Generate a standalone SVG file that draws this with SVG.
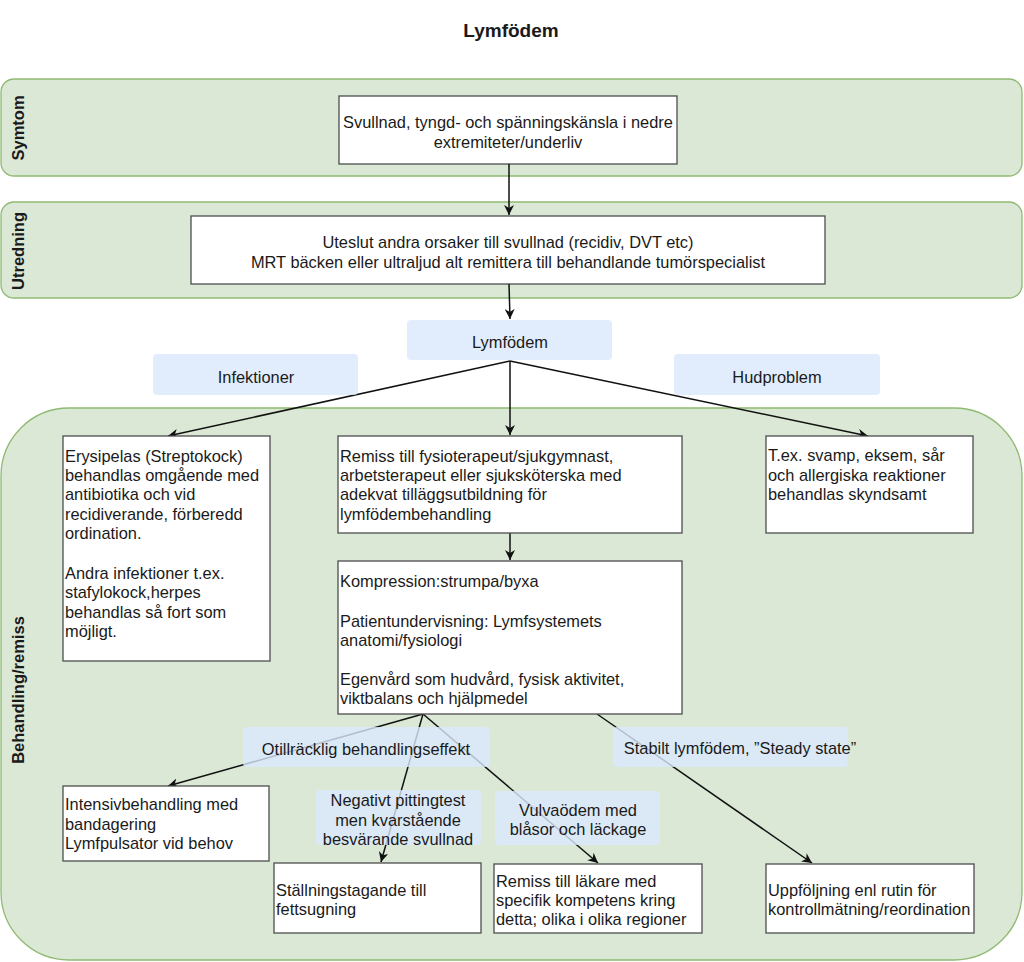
<svg xmlns="http://www.w3.org/2000/svg" width="1024" height="962" viewBox="0 0 1024 962">
<defs>
<style>
.lane{fill:#dbe8d6;stroke:#8fba72;stroke-width:1.3}
.lbl{fill:#dae8fc;fill-opacity:0.8}
.box{fill:#ffffff;stroke:#4d4d4d;stroke-width:1.3}
.t{font-family:"Liberation Sans",Arial,sans-serif;font-size:16.4px;fill:#1a1a1a}
.c{text-anchor:middle}
.lt{font-family:"Liberation Sans",Arial,sans-serif;font-size:16.5px;font-weight:bold;fill:#1a1a1a;text-anchor:middle}
.e{stroke:#111;stroke-width:1.5;fill:none;marker-end:url(#ah)}
</style>
<marker id="ah" viewBox="0 0 10 10" refX="10" refY="5" markerWidth="10" markerHeight="10" markerUnits="userSpaceOnUse" orient="auto">
<path d="M0,0 L10,5 L0,10 L3,5 Z" fill="#111"/>
</marker>
</defs>
<rect width="1024" height="962" fill="#ffffff"/>
<text x="511" y="37" class="lt" style="font-size:19px">Lymfödem</text>

<g id="lane-symtom">
<rect class="lane" x="1" y="79" width="1021" height="97" rx="13"/>
<text class="lt" transform="translate(24,128) rotate(-90)">Symtom</text>
</g>
<g id="lane-utredning">
<rect class="lane" x="1" y="202" width="1021" height="96" rx="13"/>
<text class="lt" transform="translate(24,251) rotate(-90)">Utredning</text>
</g>
<g id="lane-behandling">
<rect class="lane" x="1" y="408" width="1021" height="552" rx="68"/>
<text class="lt" transform="translate(24,690) rotate(-90)">Behandling/remiss</text>
</g>

<g id="n-symtom">
<rect class="box" x="339" y="96" width="338" height="68"/>
<text class="t c" x="508" y="128">Svullnad, tyngd- och spänningskänsla i nedre</text>
<text class="t c" x="508" y="148">extremiteter/underliv</text>
</g>
<g id="n-utredning">
<rect class="box" x="191" y="216" width="634" height="68"/>
<text class="t c" x="508" y="248">Uteslut andra orsaker till svullnad (recidiv, DVT etc)</text>
<text class="t c" x="508" y="268">MRT bäcken eller ultraljud alt remittera till behandlande tumörspecialist</text>
</g>

<g id="connectors">
<line class="e" x1="509" y1="164" x2="509" y2="215"/>
<line class="e" x1="509" y1="284" x2="510" y2="319"/>
<line class="e" x1="510" y1="361" x2="168" y2="436"/>
<line class="e" x1="510" y1="361" x2="510" y2="435"/>
<line class="e" x1="510" y1="361" x2="868" y2="436"/>
<line class="e" x1="510" y1="533" x2="510" y2="560"/>
<line class="e" x1="423" y1="714" x2="168" y2="786"/>
<line class="e" x1="423" y1="714" x2="381" y2="862"/>
<line class="e" x1="423" y1="714" x2="598" y2="863"/>
<line class="e" x1="597" y1="714" x2="812" y2="863"/>
</g>

<g id="n-lymfodem">
<rect class="lbl" x="407" y="320" width="205" height="40" rx="4"/>
<text class="t c" x="510" y="348">Lymfödem</text>
</g>
<g id="n-infektioner">
<rect class="lbl" x="153" y="354" width="205" height="41" rx="4"/>
<text class="t c" x="256" y="383">Infektioner</text>
</g>
<g id="n-hudproblem">
<rect class="lbl" x="674" y="354" width="206" height="41" rx="4"/>
<text class="t c" x="777" y="383">Hudproblem</text>
</g>

<g id="n-erysipelas">
<rect class="box" x="63" y="436" width="207" height="225"/>
<text class="t" x="65" y="462">Erysipelas (Streptokock)</text>
<text class="t" x="65" y="481">behandlas omgående med</text>
<text class="t" x="65" y="500">antibiotika och vid</text>
<text class="t" x="65" y="520">recidiverande, förberedd</text>
<text class="t" x="65" y="539">ordination.</text>
<text class="t" x="65" y="579">Andra infektioner t.ex.</text>
<text class="t" x="65" y="598">stafylokock,herpes</text>
<text class="t" x="65" y="618">behandlas så fort som</text>
<text class="t" x="65" y="637">möjligt.</text>
</g>
<g id="n-remiss-fysio">
<rect class="box" x="338" y="436" width="344" height="97"/>
<text class="t" x="340" y="462">Remiss till fysioterapeut/sjukgymnast,</text>
<text class="t" x="340" y="481">arbetsterapeut eller sjuksköterska med</text>
<text class="t" x="340" y="500">adekvat tilläggsutbildning för</text>
<text class="t" x="340" y="520">lymfödembehandling</text>
</g>
<g id="n-hud">
<rect class="box" x="766" y="436" width="207" height="97"/>
<text class="t" x="768" y="461">T.ex. svamp, eksem, sår</text>
<text class="t" x="768" y="481">och allergiska reaktioner</text>
<text class="t" x="768" y="500">behandlas skyndsamt</text>
</g>
<g id="n-kompression">
<rect class="box" x="338" y="561" width="344" height="153"/>
<text class="t" x="340" y="587">Kompression:strumpa/byxa</text>
<text class="t" x="340" y="627">Patientundervisning: Lymfsystemets</text>
<text class="t" x="340" y="646">anatomi/fysiologi</text>
<text class="t" x="340" y="685">Egenvård som hudvård, fysisk aktivitet,</text>
<text class="t" x="340" y="704">viktbalans och hjälpmedel</text>
</g>

<g id="l-otillracklig">
<rect class="lbl" x="243" y="727" width="247" height="40" rx="4"/>
<text class="t c" x="366" y="755">Otillräcklig behandlingseffekt</text>
</g>
<g id="l-negativt">
<rect class="lbl" x="316" y="790" width="165" height="55" rx="4"/>
<text class="t c" x="398" y="806">Negativt pittingtest</text>
<text class="t c" x="398" y="826">men kvarstående</text>
<text class="t c" x="398" y="845">besvärande svullnad</text>
</g>
<g id="l-vulva">
<rect class="lbl" x="495" y="791" width="165" height="54" rx="4"/>
<text class="t c" x="578" y="816">Vulvaödem med</text>
<text class="t c" x="578" y="835">blåsor och läckage</text>
</g>
<g id="l-stabilt">
<rect class="lbl" x="613" y="727" width="235" height="40" rx="4"/>
<text class="t c" x="740" y="754">Stabilt lymfödem, ”Steady state”</text>
</g>

<g id="n-intensiv">
<rect class="box" x="63" y="786" width="206" height="75"/>
<text class="t" x="65" y="810">Intensivbehandling med</text>
<text class="t" x="65" y="830">bandagering</text>
<text class="t" x="65" y="849">Lymfpulsator vid behov</text>
</g>
<g id="n-fettsugning">
<rect class="box" x="274" y="863" width="207" height="70"/>
<text class="t" x="276" y="896">Ställningstagande till</text>
<text class="t" x="276" y="915">fettsugning</text>
</g>
<g id="n-lakare">
<rect class="box" x="494" y="864" width="208" height="69"/>
<text class="t" x="496" y="887">Remiss till läkare med</text>
<text class="t" x="496" y="906">specifik kompetens kring</text>
<text class="t" x="496" y="925">detta; olika i olika regioner</text>
</g>
<g id="n-uppfoljning">
<rect class="box" x="766" y="864" width="208" height="69"/>
<text class="t" x="768" y="896">Uppföljning enl rutin för</text>
<text class="t" x="768" y="915">kontrollmätning/reordination</text>
</g>
</svg>
